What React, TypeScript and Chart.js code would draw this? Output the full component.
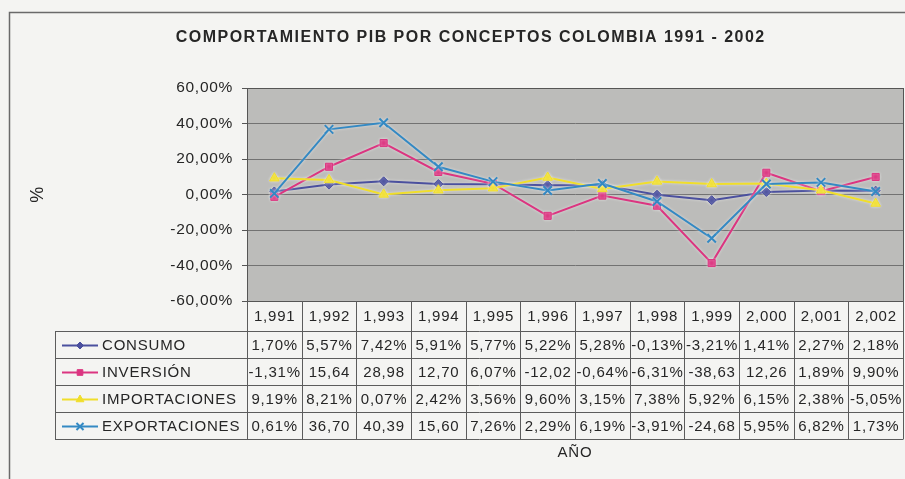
import React, { useEffect, useRef } from "react";
import { Chart, registerables } from "chart.js";
import { drawPoint } from "chart.js/helpers";

Chart.register(...registerables);

// ---- data ----
const years = ["1,991", "1,992", "1,993", "1,994", "1,995", "1,996", "1,997", "1,998", "1,999", "2,000", "2,001", "2,002"];
const seriesNames = ["CONSUMO", "INVERSIÓN", "IMPORTACIONES", "EXPORTACIONES"];
const consumo = [1.70, 5.57, 7.42, 5.91, 5.77, 5.22, 5.28, -0.13, -3.21, 1.41, 2.27, 2.18];
const inversion = [-1.31, 15.64, 28.98, 12.70, 6.07, -12.02, -0.64, -6.31, -38.63, 12.26, 1.89, 9.90];
const importaciones = [9.19, 8.21, 0.07, 2.42, 3.56, 9.60, 3.15, 7.38, 5.92, 6.15, 2.38, -5.05];
const exportaciones = [0.61, 36.70, 40.39, 15.60, 7.26, 2.29, 6.19, -3.91, -24.68, 5.95, 6.82, 1.73];
const yTickValues = [-60, -40, -20, 0, 20, 40, 60];
const chartTitle = "COMPORTAMIENTO PIB POR CONCEPTOS COLOMBIA 1991 - 2002";
const yAxisTitle = "%";
const xAxisTitle = "AÑO";

const series = [consumo, inversion, importaciones, exportaciones];

const fmtNum = (v: number) => v.toFixed(2).replace(".", ",");
const fmtTick = (v: number) => fmtNum(v) + "%";
const fmtCell = (v: number) => (Math.abs(v) >= 10 ? fmtNum(v) : fmtNum(v) + "%");

export default function App() {
  const ref = useRef<HTMLCanvasElement>(null);

  useEffect(() => {
    document.body.style.margin = "0";
    const canvas = ref.current!;
    const FONT = '"Liberation Sans", Arial, sans-serif';
    const pageBg = "#f4f4f2";
    const plotBg = "#bcbcba";
    const ink = "#262626";
    const gridColor = "#727272";
    const tableLine = "#5c5c5c";

    const colors = ["#4b509e", "#db3580", "#f0de2a", "#3489c3"];
    const pointStyles = ["rectRot", "rect", "triangle", "crossRot"];
    const radii = [4.5, 5, 5.5, 6];

    const headerH = 30;
    const rowH = 27;
    const tableLeft = 55;

    const decor = {
      id: "decor",
      beforeDraw(chart: any) {
        const { ctx, chartArea: a, width, height } = chart;
        ctx.save();
        ctx.fillStyle = pageBg;
        ctx.fillRect(0, 0, width, height);
        ctx.strokeStyle = "#6a6a6a";
        ctx.lineWidth = 1.5;
        ctx.strokeRect(9.5, 12.5, width + 20, height + 20);
        ctx.fillStyle = plotBg;
        ctx.fillRect(a.left, a.top, a.right - a.left, a.bottom - a.top);
        // title
        ctx.font = `bold 16px ${FONT}`;
        const w = ctx.measureText(chartTitle).width;
        const ls = (590 - w) / chartTitle.length;
        (ctx as any).letterSpacing = ls + "px";
        ctx.fillStyle = ink;
        ctx.textAlign = "center";
        ctx.textBaseline = "middle";
        ctx.fillText(chartTitle, 470 + ls / 2, 38);
        ctx.restore();
        (ctx as any).letterSpacing = "0.7px";
      },
      beforeDatasetsDraw(chart: any) {
        const { ctx, chartArea: a } = chart;
        ctx.save();
        ctx.strokeStyle = "#555";
        ctx.lineWidth = 1;
        ctx.strokeRect(Math.round(a.left) + 0.5, Math.round(a.top) + 0.5, Math.round(a.right - a.left), Math.round(a.bottom - a.top));
        ctx.restore();
      },
      beforeDatasetDraw(chart: any) {
        chart.ctx.shadowColor = "rgba(255,255,255,0.55)";
        chart.ctx.shadowBlur = 3;
      },
      afterDatasetDraw(chart: any) {
        chart.ctx.shadowColor = "rgba(0,0,0,0)";
        chart.ctx.shadowBlur = 0;
      },
      afterDraw(chart: any) {
        const { ctx, chartArea: a } = chart;
        const x = chart.scales.x;
        const half = (x.getPixelForValue(1) - x.getPixelForValue(0)) / 2;
        const top = Math.round(a.bottom);
        const rowTop = (r: number) => (r === 0 ? top : top + headerH + (r - 1) * rowH);
        const bottom = rowTop(5);
        const px = (v: number) => Math.round(v) + 0.5;
        ctx.save();
        ctx.strokeStyle = tableLine;
        ctx.lineWidth = 1;
        ctx.beginPath();
        for (let i = 0; i <= years.length; i++) {
          const bx = i < years.length ? x.getPixelForValue(i) - half : x.getPixelForValue(years.length - 1) + half;
          ctx.moveTo(px(bx), top);
          ctx.lineTo(px(bx), bottom);
        }
        for (let r = 1; r <= 5; r++) {
          ctx.moveTo(tableLeft, px(rowTop(r)));
          ctx.lineTo(px(a.right), px(rowTop(r)));
        }
        ctx.moveTo(px(tableLeft), rowTop(1));
        ctx.lineTo(px(tableLeft), bottom);
        ctx.stroke();

        (ctx as any).letterSpacing = "0.8px";
        ctx.font = `15px ${FONT}`;
        ctx.fillStyle = ink;
        ctx.textBaseline = "middle";
        ctx.textAlign = "center";
        years.forEach((yl, i) => {
          ctx.fillText(yl, x.getPixelForValue(i) + 0.4, top + headerH / 2 + 1);
        });
        series.forEach((vals, s) => {
          const cy = rowTop(s + 1) + rowH / 2 + 1;
          ctx.textAlign = "center";
          ctx.fillStyle = ink;
          vals.forEach((v, i) => {
            ctx.fillText(fmtCell(v), x.getPixelForValue(i) + 0.4, cy);
          });
          // legend key
          ctx.textAlign = "left";
          ctx.fillText(seriesNames[s], 102, cy);
          ctx.strokeStyle = colors[s];
          ctx.lineWidth = 2;
          ctx.beginPath();
          ctx.moveTo(62, cy);
          ctx.lineTo(98, cy);
          ctx.stroke();
          ctx.fillStyle = colors[s];
          ctx.lineWidth = s === 3 ? 2 : 1;
          drawPoint(ctx, { pointStyle: pointStyles[s], radius: radii[s] - 1, rotation: 0, borderWidth: s === 3 ? 2 : 1 } as any, 80, cy);
        });
        ctx.fillStyle = ink;
        ctx.textAlign = "center";
        ctx.fillText(xAxisTitle, (a.left + a.right) / 2, bottom + 14);
        ctx.restore();
      },
    };

    const chart = new Chart(canvas, {
      type: "line",
      data: {
        labels: years,
        datasets: seriesNames.map((name, i) => ({
          label: name,
          data: series[i],
          borderColor: colors[i],
          backgroundColor: colors[i],
          pointStyle: pointStyles[i] as any,
          pointRadius: radii[i],
          pointBorderColor: colors[i],
          pointBackgroundColor: colors[i],
          pointBorderWidth: i === 3 ? 2 : 1,
          borderWidth: 2,
          tension: 0,
          order: 4 - i,
        })),
      },
      options: {
        animation: false,
        responsive: false,
        devicePixelRatio: 1,
        layout: { autoPadding: false, padding: { top: 88, bottom: 479 - 301, left: 0, right: 2 } },
        plugins: { legend: { display: false }, tooltip: { enabled: false }, title: { display: false } },
        scales: {
          x: { type: "category", offset: true, display: false },
          y: {
            min: -60,
            max: 60,
            afterBuildTicks: (scale: any) => {
              scale.ticks = yTickValues.map((v) => ({ value: v }));
            },
            afterFit: (scale: any) => {
              scale.width = 247;
            },
            ticks: {
              callback: (v: any) => fmtTick(Number(v)),
              font: { family: FONT, size: 15.5 },
              color: ink,
              padding: 9,
            },
            grid: { color: gridColor, lineWidth: 1, tickLength: 5, drawTicks: true, tickColor: "#555" },
            border: { display: true, color: "#555", width: 1 },
            title: {
              display: true,
              text: yAxisTitle,
              font: { family: FONT, size: 18 },
              color: ink,
              padding: { top: 27, bottom: 0 },
            },
          },
        },
      },
      plugins: [decor],
    });
    return () => chart.destroy();
  }, []);

  return (
    <div style={{ width: 905, height: 479, background: "#f4f4f2" }}>
      <canvas ref={ref} width={905} height={479} style={{ display: "block" }} />
    </div>
  );
}
